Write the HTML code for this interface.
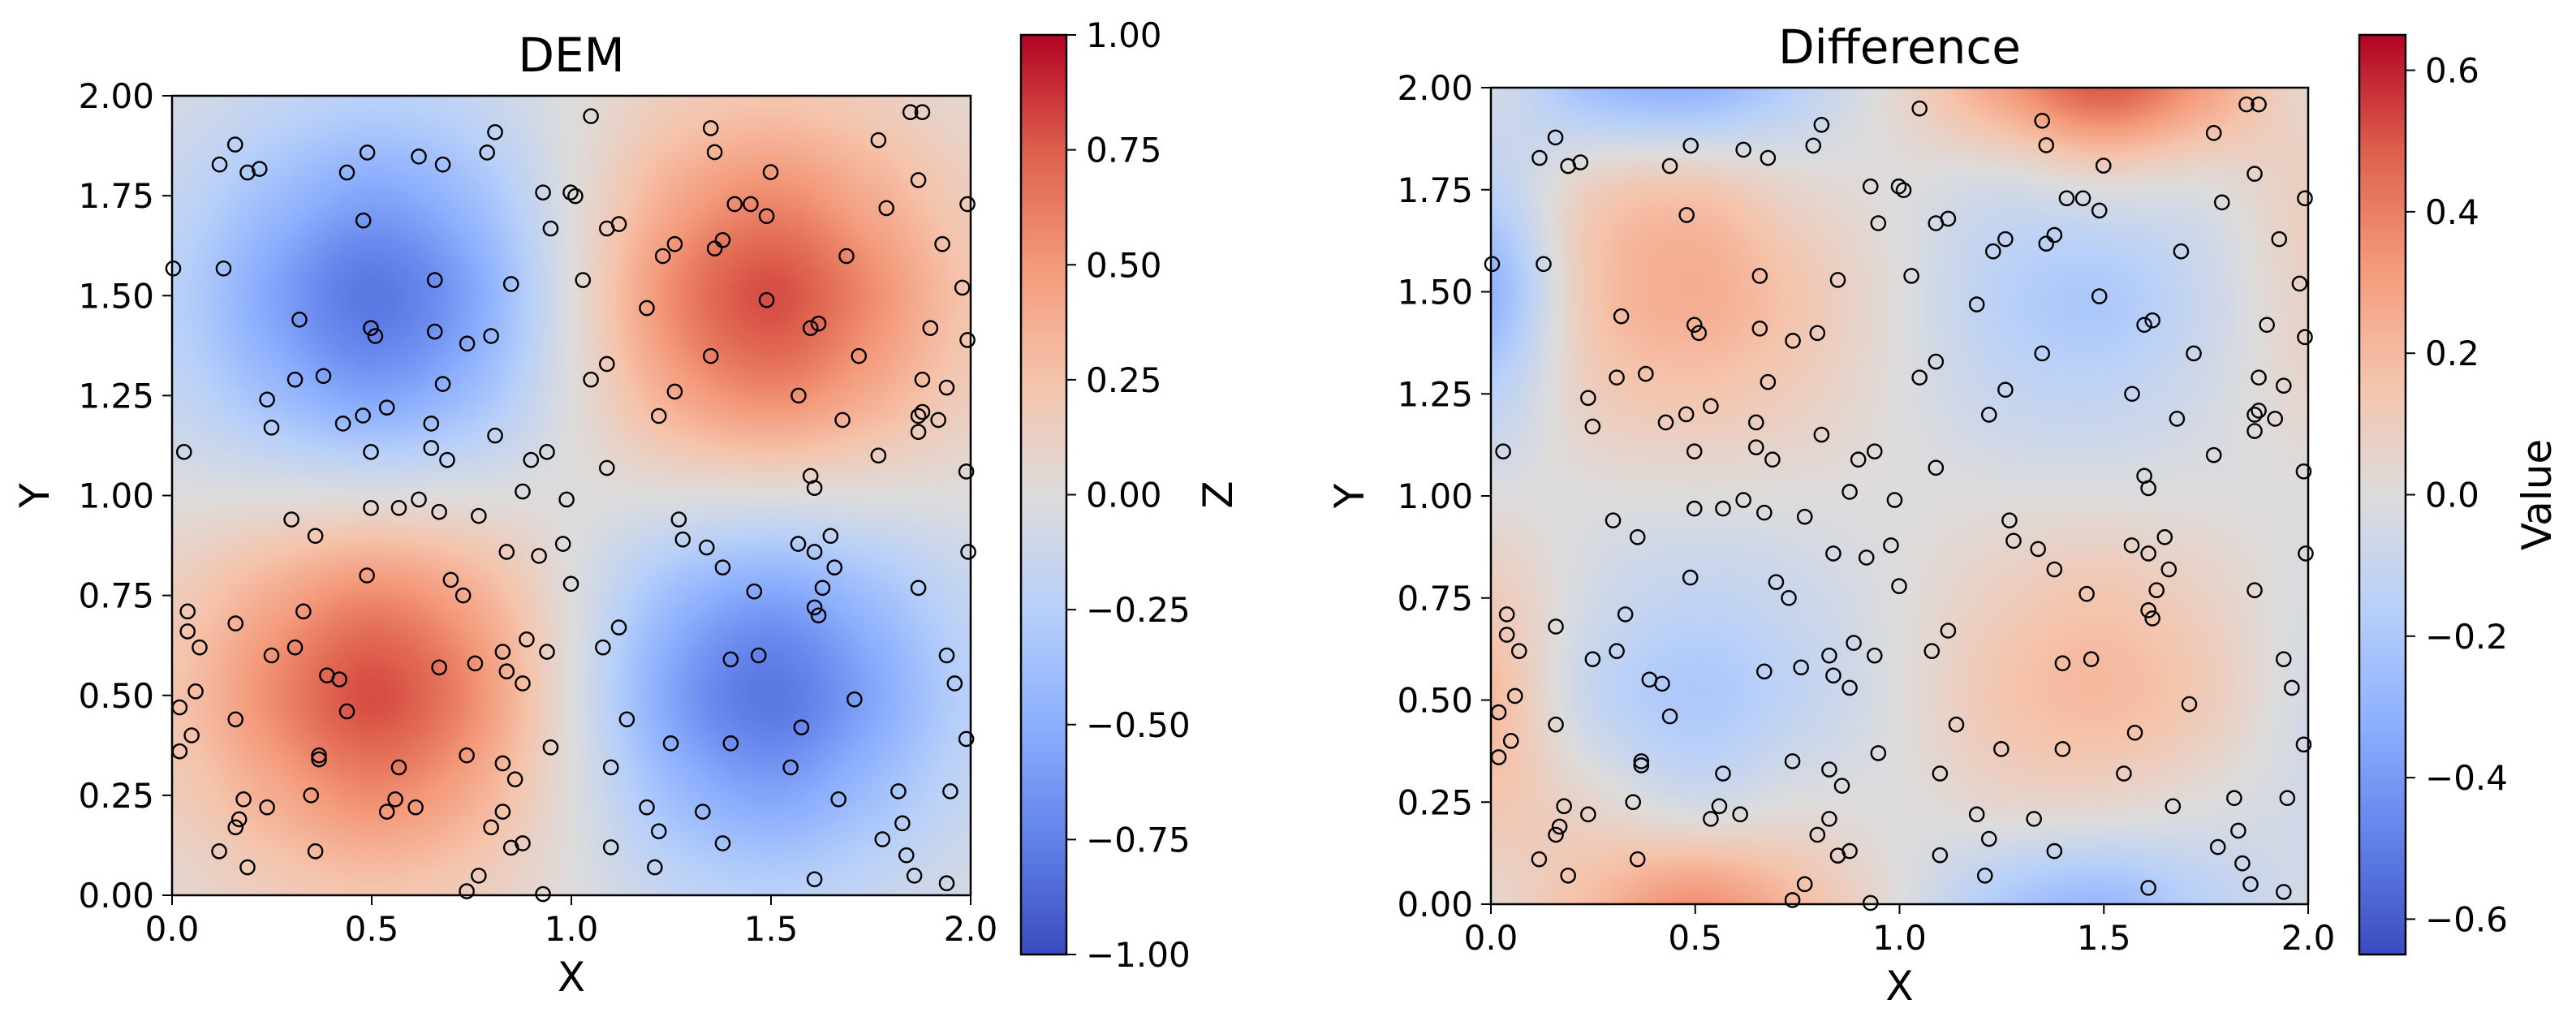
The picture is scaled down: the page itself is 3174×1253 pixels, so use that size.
<!DOCTYPE html>
<html><head><meta charset="utf-8">
<style>
html,body{margin:0;padding:0;background:#fff;}
#wrap{position:relative;width:3174px;height:1253px;overflow:hidden;}
canvas{position:absolute;}
svg{position:absolute;left:0;top:0;}
text{font-family:"DejaVu Sans","Liberation Sans",sans-serif;fill:#000;}
</style></head>
<body>
<div id="wrap">
<canvas id="demMap"></canvas>
<canvas id="diffMap"></canvas>
<canvas id="demBar"></canvas>
<canvas id="diffBar"></canvas>
<svg id="svg" width="3174" height="1253" xmlns="http://www.w3.org/2000/svg"></svg>
</div>
<script>
// ---- data ----
const gridCoords = [0, 0.25, 0.5, 0.75, 1.0, 1.25, 1.5, 1.75, 2.0];
// DEM values, rows y=0..2, cols x=0..2
const demGrid = [
 [0.07,0.17,0.24,0.17,0,-0.17,-0.24,-0.17,-0.07],
 [0.17,0.39,0.56,0.39,0,-0.39,-0.56,-0.39,-0.17],
 [0.24,0.56,0.80,0.56,0,-0.56,-0.80,-0.56,-0.24],
 [0.17,0.39,0.56,0.39,0,-0.39,-0.56,-0.39,-0.17],
 [0,0,0,0,0,0,0,0,0],
 [-0.17,-0.39,-0.56,-0.39,0,0.39,0.56,0.39,0.17],
 [-0.24,-0.56,-0.80,-0.56,0,0.56,0.80,0.56,0.24],
 [-0.17,-0.39,-0.56,-0.39,0,0.39,0.56,0.39,0.17],
 [-0.07,-0.17,-0.24,-0.17,0,0.17,0.24,0.17,0.07]
];
const diffGrid = [
 [0.05,0.20,0.35,0.20,0.00,-0.20,-0.28,-0.15,-0.05],
 [0.15,0.05,-0.05,0.00,0.00,0.05,0.05,0.00,-0.05],
 [0.20,-0.10,-0.20,-0.12,0.00,0.15,0.20,0.12,-0.05],
 [0.12,-0.05,-0.12,-0.08,0.00,0.10,0.15,0.08,-0.02],
 [0.00,0.00,0.00,0.00,0.00,0.00,0.00,0.00,0.00],
 [-0.15,0.10,0.15,0.10,0.00,-0.10,-0.12,-0.05,0.05],
 [-0.30,0.15,0.25,0.15,0.00,-0.15,-0.20,-0.08,0.08],
 [-0.15,0.10,0.15,0.05,0.00,-0.05,0.00,0.00,0.10],
 [-0.05,-0.25,-0.30,-0.15,0.05,0.30,0.50,0.30,0.05]
];
const ptsX = [0.158,0.119,0.189,0.219,0.438,0.489,0.618,0.678,0.789,0.809,0.929,0.948,0.479,0.003,0.129,0.658,0.849,0.319,0.498,0.509,0.658,0.739,0.799,0.308,0.379,0.678,0.238,0.249,0.428,0.478,0.538,0.649,0.809,0.030,0.498,0.649,0.689,0.899,0.939,0.878,
1.049,1.349,1.359,1.849,1.879,1.769,1.499,1.869,0.998,1.010,1.789,1.992,1.409,1.449,1.489,1.089,1.119,1.259,1.379,1.359,1.229,1.929,1.689,1.029,1.979,1.189,1.489,1.599,1.619,1.899,1.992,1.349,1.720,1.089,1.049,1.879,1.940,1.259,1.569,1.219,1.679,1.879,1.869,1.919,1.869,1.769,1.089,1.599,1.609,1.989,
0.618,0.498,0.568,0.669,0.768,0.988,0.299,0.359,0.838,0.919,0.979,0.488,0.698,0.729,0.999,0.039,0.159,0.039,0.329,0.069,0.308,0.249,0.888,0.828,0.939,0.669,0.759,0.838,0.878,0.388,0.419,0.059,0.019,0.438,0.159,0.049,0.019,0.368,0.368,0.738,0.948,0.828,0.568,0.859,0.179,0.168,0.159,0.238,0.348,0.559,0.538,0.610,0.828,0.799,0.849,0.878,0.118,0.359,0.189,0.768,0.738,0.929,
1.269,1.279,1.339,1.379,1.458,1.568,1.609,1.649,1.659,1.629,1.609,1.619,1.869,1.994,1.119,1.079,1.399,1.469,1.940,1.960,1.709,1.139,1.576,1.249,1.399,1.989,1.099,1.549,1.819,1.949,1.669,1.189,1.329,1.829,1.219,1.779,1.379,1.099,1.839,1.209,1.609,1.859,1.940];
const ptsY = [1.878,1.828,1.808,1.817,1.808,1.858,1.848,1.828,1.858,1.909,1.758,1.668,1.688,1.568,1.568,1.539,1.529,1.440,1.419,1.399,1.410,1.380,1.399,1.290,1.299,1.279,1.240,1.170,1.180,1.200,1.220,1.180,1.150,1.109,1.109,1.119,1.089,1.089,1.109,1.010,
1.949,1.919,1.859,1.959,1.959,1.889,1.809,1.789,1.758,1.749,1.719,1.729,1.729,1.729,1.699,1.668,1.679,1.629,1.639,1.618,1.599,1.629,1.599,1.539,1.520,1.469,1.489,1.419,1.430,1.419,1.389,1.349,1.349,1.329,1.290,1.290,1.270,1.260,1.250,1.199,1.189,1.209,1.199,1.189,1.159,1.100,1.069,1.049,1.019,1.060,
0.990,0.969,0.969,0.959,0.949,0.990,0.940,0.899,0.859,0.849,0.879,0.800,0.789,0.750,0.779,0.710,0.680,0.660,0.710,0.620,0.620,0.600,0.640,0.609,0.609,0.570,0.580,0.560,0.530,0.550,0.540,0.510,0.470,0.460,0.440,0.400,0.360,0.350,0.340,0.350,0.370,0.330,0.320,0.290,0.240,0.190,0.170,0.220,0.250,0.240,0.209,0.220,0.209,0.170,0.119,0.130,0.110,0.110,0.070,0.049,0.010,0.003,
0.940,0.890,0.870,0.820,0.760,0.879,0.859,0.899,0.820,0.769,0.720,0.700,0.769,0.859,0.670,0.620,0.590,0.600,0.600,0.530,0.490,0.440,0.420,0.380,0.380,0.391,0.320,0.320,0.260,0.260,0.240,0.220,0.209,0.180,0.160,0.140,0.130,0.120,0.100,0.070,0.040,0.049,0.030];
const xTicks = [0.0,0.5,1.0,1.5,2.0];
const xTickLabels = ["0.0","0.5","1.0","1.5","2.0"];
const yTicks = [0,0.25,0.5,0.75,1.0,1.25,1.5,1.75,2.0];
const yTickLabels = ["0.00","0.25","0.50","0.75","1.00","1.25","1.50","1.75","2.00"];
const demCbTicks = [-1,-0.75,-0.5,-0.25,0,0.25,0.5,0.75,1];
const demCbLabels = ["\u22121.00","\u22120.75","\u22120.50","\u22120.25","0.00","0.25","0.50","0.75","1.00"];
const diffCbTicks = [-0.6,-0.4,-0.2,0,0.2,0.4,0.6];
const diffCbLabels = ["\u22120.6","\u22120.4","\u22120.2","0.0","0.2","0.4","0.6"];
const demRange = [-1,1];
const diffRange = [-0.65,0.65];

// ---- colormap (coolwarm) ----
const cmapStops = [[59,76,192],[98,130,234],[141,176,254],[184,208,249],[221,220,220],[245,196,172],[244,154,123],[222,96,77],[180,4,38]];
function cmap(t){
  t=Math.max(0,Math.min(1,t)); const f=t*8; const i=Math.min(7,Math.floor(f)); const r=f-i;
  const a=cmapStops[i], b=cmapStops[i+1];
  return [a[0]+(b[0]-a[0])*r, a[1]+(b[1]-a[1])*r, a[2]+(b[2]-a[2])*r];
}
function cr(p0,p1,p2,p3,t){return 0.5*((2*p1)+(-p0+p2)*t+(2*p0-5*p1+4*p2-p3)*t*t+(-p0+3*p1-3*p2+p3)*t*t*t);}
function sample(g,gx,gy){
  const n=g.length-1;
  const ix=Math.min(n-1,Math.floor(gx)), iy=Math.min(n-1,Math.floor(gy));
  const tx=gx-ix, ty=gy-iy;
  const c=k=>Math.max(0,Math.min(n,k));
  const rows=[];
  for(let j=-1;j<=2;j++){
    const row=g[c(iy+j)];
    rows.push(cr(row[c(ix-1)],row[c(ix)],row[c(ix+1)],row[c(ix+2)],tx));
  }
  return cr(rows[0],rows[1],rows[2],rows[3],ty);
}

const panels = [
  {id:'dem', L:212, R:1196, T:118, B:1103, grid:demGrid, range:demRange, cbL:1258, cbR:1314, cbT:43, cbB:1176,
   cbTicks:demCbTicks, cbLabels:demCbLabels, title:'DEM', titleY:88, ylabX:60, cbLabel:'Z', cbLabX:1518},
  {id:'diff', L:1837, R:2844, T:108, B:1114, grid:diffGrid, range:diffRange, cbL:2907, cbR:2964, cbT:43, cbB:1176,
   cbTicks:diffCbTicks, cbLabels:diffCbLabels, title:'Difference', titleY:78, ylabX:1680, cbLabel:'Value', cbLabX:3143}
];

function drawHeat(cv,p){
  const w=p.R-p.L, h=p.B-p.T;
  cv.width=w; cv.height=h; cv.style.left=p.L+'px'; cv.style.top=p.T+'px';
  const ctx=cv.getContext('2d'); const im=ctx.createImageData(w,h);
  const n=gridCoords.length-1, span=gridCoords[n]-gridCoords[0];
  for(let y=0;y<h;y++){
    const gy=(1-(y+0.5)/h)*n;
    for(let x=0;x<w;x++){
      const gx=((x+0.5)/w)*n;
      const v=sample(p.grid,gx,gy);
      const col=cmap((v-p.range[0])/(p.range[1]-p.range[0]));
      const k=(y*w+x)*4; im.data[k]=col[0]; im.data[k+1]=col[1]; im.data[k+2]=col[2]; im.data[k+3]=255;
    }
  }
  ctx.putImageData(im,0,0);
}
function drawBar(cv,p){
  const w=p.cbR-p.cbL, h=p.cbB-p.cbT;
  cv.width=w; cv.height=h; cv.style.left=p.cbL+'px'; cv.style.top=p.cbT+'px';
  const ctx=cv.getContext('2d');
  for(let y=0;y<h;y++){const c=cmap(1-(y+0.5)/h); ctx.fillStyle=`rgb(${c[0]|0},${c[1]|0},${c[2]|0})`; ctx.fillRect(0,y,w,1);}
}
drawHeat(document.getElementById('demMap'),panels[0]);
drawHeat(document.getElementById('diffMap'),panels[1]);
drawBar(document.getElementById('demBar'),panels[0]);
drawBar(document.getElementById('diffBar'),panels[1]);

const svg=document.getElementById('svg'); const NS='http://www.w3.org/2000/svg';
function mk(tag,attrs,parent){const e=document.createElementNS(NS,tag); for(const k in attrs) e.setAttribute(k,attrs[k]); (parent||svg).appendChild(e); return e;}
function txt(s,attrs,parent){const e=mk('text',attrs,parent); e.textContent=s; return e;}

panels.forEach(p=>{
  const g=mk('g',{});
  
  
  const sx=v=>p.L+(v-gridCoords[0])/(gridCoords[8]-gridCoords[0])*(p.R-p.L);
  const sy=v=>p.B-(v-gridCoords[0])/(gridCoords[8]-gridCoords[0])*(p.B-p.T);
  // points
  const pg=mk('g',{},g);
  
  
  for(let i=0;i<ptsX.length;i++){
    const c=mk('circle',{cx:sx(ptsX[i]),cy:sy(ptsY[i]),r:8.6,fill:'none',stroke:'#000','stroke-width':2.4},pg);
    
    
  }
  // frame
  const fr=mk('rect',{x:p.L,y:p.T,width:p.R-p.L,height:p.B-p.T,fill:'none',stroke:'#000','stroke-width':2.5},g);
  
  
  // x ticks
  xTicks.forEach((v,i)=>{
    mk('line',{x1:sx(v),x2:sx(v),y1:p.B,y2:p.B+12,stroke:'#000','stroke-width':2},g);
    const t=txt(xTickLabels[i],{x:sx(v),y:p.B+56,'font-size':42,'text-anchor':'middle'},g);
    
    
  });
  yTicks.forEach((v,i)=>{
    mk('line',{x1:p.L-12,x2:p.L,y1:sy(v),y2:sy(v),stroke:'#000','stroke-width':2},g);
    const t=txt(yTickLabels[i],{x:p.L-22,y:sy(v)+15,'font-size':42,'text-anchor':'end'},g);
    
    
  });
  const xl=txt('X',{x:(p.L+p.R)/2,y:p.B+118,'font-size':50,'text-anchor':'middle'},g);
  
  
  const yl=txt('Y',{x:0,y:0,'font-size':50,'text-anchor':'middle',transform:`translate(${p.ylabX},${(p.T+p.B)/2}) rotate(-90)`},g);
  
  
  const tt=txt(p.title,{x:(p.L+p.R)/2,y:p.titleY,'font-size':58,'text-anchor':'middle'},g);
  
  
  // colorbar
  const cb=mk('rect',{x:p.cbL,y:p.cbT,width:p.cbR-p.cbL,height:p.cbB-p.cbT,fill:'none',stroke:'#000','stroke-width':2.5},g);
  
  
  const cy=v=>p.cbB-(v-p.range[0])/(p.range[1]-p.range[0])*(p.cbB-p.cbT);
  p.cbTicks.forEach((v,i)=>{
    mk('line',{x1:p.cbR,x2:p.cbR+12,y1:cy(v),y2:cy(v),stroke:'#000','stroke-width':2},g);
    const t=txt(p.cbLabels[i],{x:p.cbR+24,y:cy(v)+15,'font-size':42},g);
    
    
  });
  const cl=txt(p.cbLabel,{x:0,y:0,'font-size':50,'text-anchor':'middle',transform:`translate(${p.cbLabX},${(p.cbT+p.cbB)/2}) rotate(-90)`},g);
  
  
});
</script>
</body></html>
